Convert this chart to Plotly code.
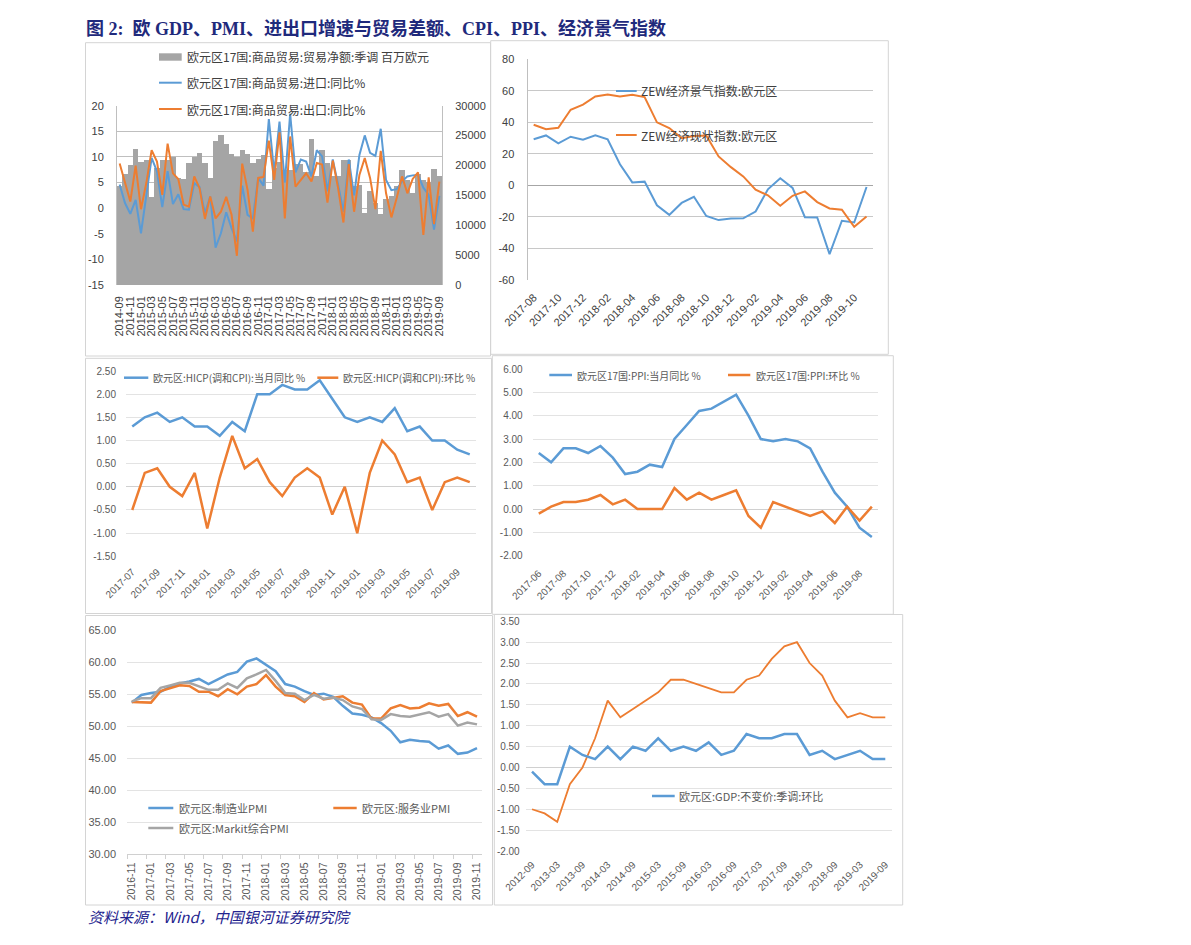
import plotly.graph_objects as go
import pandas as pd

W, H = 1191, 945
OFF = 8  # the page body margin shifts the figure by this many pixels


def fx(x):
    return (x - OFF) / W


def fy(y):
    return 1 - (y - OFF) / H


# ---------------- data ----------------
trade_months = pd.date_range("2014-09-01", "2019-09-01", freq="MS").strftime("%Y-%m").tolist()
trade_balance = [16630, 18600, 20060, 22800, 20570, 20910, 14830, 19630, 20910, 20910,
                 21510, 17910, 17830, 20490, 21510, 22200, 20400, 17910, 24170, 25200,
                 23570, 21940, 21430, 22710, 21940, 20490, 21170, 21770, 16030, 19710,
                 20660, 19370, 19290, 20310, 20310, 19030, 24510, 18260, 22710, 20400,
                 18260, 18260, 21000, 21000, 16630, 16800, 12170, 15860, 13800, 11910,
                 14400, 15000, 16630, 19370, 17570, 15510, 18600, 17570, 17310, 19540,
                 18260]
import_yoy = [4.6, 1.0, -1.1, 1.6, -4.9, 2.3, 9.8, 7.2, 0.2, 7.2,
              0.8, 2.7, -0.2, -0.3, 4.9, 4.1, -1.0, 2.3, -7.7, -4.9,
              -0.8, -3.9, -6.5, 4.4, -1.3, -2.0, 5.9, 4.4, 17.4, 7.0,
              16.9, 5.0, 18.4, 7.0, 9.5, 9.1, 6.2, 11.3, 10.1, 3.3,
              9.5, 4.6, -0.7, 9.5, 2.5, 10.4, 14.2, 10.8, 10.2, 15.5,
              5.5, 3.5, 3.7, 5.2, 6.2, 6.4, 6.5, 4.0, 2.6, -4.2,
              2.4]
export_yoy = [8.7, 4.9, 1.3, 8.3, -0.2, 4.9, 11.3, 9.1, 2.6, 12.6,
              6.8, 5.7, 0.7, 0.3, 6.2, 3.9, -2.1, 2.3, -2.0, -0.7,
              2.2, -1.3, -9.3, 8.7, 3.6, -4.6, 5.9, 6.1, 13.2, 5.5,
              14.8, -2.0, 14.0, 4.2, 5.5, 6.8, 5.2, 8.8, 8.5, 1.1,
              9.3, 3.9, -2.8, 8.6, -0.7, 6.5, 9.8, 5.9, -0.2, 11.2,
              2.9, -1.8, 2.0, 6.2, 2.9, 5.7, 7.0, -5.2, 6.0, -3.1,
              5.2]

zew_months = pd.date_range("2017-08-01", "2019-11-01", freq="MS").strftime("%Y-%m").tolist()
zew_expect = [29.3, 31.7, 26.7, 30.9, 29.0, 31.8, 29.3, 13.4, 1.9, 2.4,
              -12.6, -18.7, -11.1, -7.2, -19.4, -22.0, -21.0, -20.9, -16.6, -2.5,
              4.5, -1.6, -20.2, -20.3, -43.6, -22.4, -23.5, -1.0]
zew_current = [38.5, 35.7, 36.6, 48.0, 51.2, 56.4, 57.7, 56.4, 57.5, 56.0,
               40.0, 36.4, 30.0, 31.3, 31.7, 18.4, 11.6, 5.7, -2.7, -6.3,
               -12.9, -6.6, -3.8, -10.6, -14.6, -15.4, -26.2, -19.7]

hicp_months = pd.date_range("2017-07-01", "2019-10-01", freq="MS").strftime("%Y-%m").tolist()
hicp_yoy = [1.3, 1.5, 1.6, 1.4, 1.5, 1.3, 1.3, 1.1, 1.4, 1.2,
            2.0, 2.0, 2.2, 2.1, 2.1, 2.3, 1.9, 1.5, 1.4, 1.5,
            1.4, 1.7, 1.2, 1.3, 1.0, 1.0, 0.8, 0.7]
hicp_mom = [-0.5, 0.3, 0.4, 0.0, -0.2, 0.3, -0.9, 0.2, 1.1, 0.4,
            0.6, 0.1, -0.2, 0.2, 0.4, 0.2, -0.6, 0.0, -1.0, 0.3,
            1.0, 0.7, 0.1, 0.2, -0.5, 0.1, 0.2, 0.1]

ppi_months = pd.date_range("2017-06-01", "2019-09-01", freq="MS").strftime("%Y-%m").tolist()
ppi_yoy = [2.4, 2.0, 2.6, 2.6, 2.4, 2.7, 2.2, 1.5, 1.6, 1.9,
           1.8, 3.0, 3.6, 4.2, 4.3, 4.6, 4.9, 4.0, 3.0, 2.9,
           3.0, 2.9, 2.6, 1.6, 0.7, 0.1, -0.8, -1.2]
ppi_mom = [-0.2, 0.1, 0.3, 0.3, 0.4, 0.6, 0.2, 0.4, 0.0, 0.0,
           0.0, 0.9, 0.4, 0.7, 0.4, 0.6, 0.8, -0.3, -0.8, 0.3,
           0.1, -0.1, -0.3, -0.1, -0.6, 0.1, -0.5, 0.1]

pmi_months = pd.date_range("2016-11-01", "2019-11-01", freq="MS").strftime("%Y-%m").tolist()
pmi_mfg = [53.7, 54.9, 55.2, 55.4, 56.2, 56.7, 57.0, 57.4, 56.6, 57.4,
           58.1, 58.5, 60.1, 60.6, 59.6, 58.6, 56.6, 56.2, 55.5, 54.9,
           55.1, 54.6, 53.2, 52.0, 51.8, 51.4, 50.5, 49.3, 47.5, 47.9,
           47.7, 47.6, 46.5, 47.0, 45.7, 45.9, 46.6]
pmi_srv = [53.8, 53.7, 53.7, 55.5, 56.0, 56.4, 56.3, 55.4, 55.4, 54.7,
           55.8, 55.0, 56.2, 56.6, 58.0, 56.2, 54.9, 54.7, 53.8, 55.2,
           54.2, 54.4, 54.7, 53.7, 53.4, 51.2, 51.2, 52.8, 53.3, 52.8,
           52.9, 53.6, 53.2, 53.5, 51.6, 52.2, 51.5]
pmi_comp = [53.9, 54.4, 54.4, 56.0, 56.4, 56.8, 56.8, 56.3, 55.7, 55.7,
            56.7, 56.0, 57.5, 58.1, 58.8, 57.1, 55.2, 55.1, 54.1, 54.9,
            54.3, 54.5, 54.1, 53.1, 52.7, 51.1, 51.0, 51.9, 51.6, 51.5,
            51.8, 52.2, 51.5, 51.9, 50.1, 50.6, 50.3]

gdp_quarters = pd.date_range("2012-09-01", "2019-09-01", freq="3MS").strftime("%Y-%m").tolist()
gdp_qoq = [-0.1, -0.4, -0.4, 0.5, 0.3, 0.2, 0.5, 0.2, 0.5, 0.4,
           0.7, 0.4, 0.5, 0.4, 0.6, 0.3, 0.4, 0.8, 0.7, 0.7,
           0.8, 0.8, 0.3, 0.4, 0.2, 0.3, 0.4, 0.2, 0.2]
gdp_yoy = [-1.0, -1.1, -1.3, -0.4, 0.0, 0.7, 1.6, 1.2, 1.4, 1.6,
           1.8, 2.1, 2.1, 2.0, 1.9, 1.8, 1.8, 2.1, 2.2, 2.6,
           2.9, 3.0, 2.5, 2.2, 1.6, 1.2, 1.3, 1.2, 1.2]

BLUE = "#5B9BD5"
ORANGE = "#ED7D31"
GRAY = "#A5A5A5"
FONT = "Liberation Sans, Noto Sans CJK SC, sans-serif"
CJK = "Noto Sans CJK SC, Liberation Sans, sans-serif"

fig = go.Figure()

# ---------- top-left: trade ----------
fig.add_trace(go.Bar(x=trade_months, y=trade_balance, marker=dict(color=GRAY, line=dict(width=0)),
                     xaxis="x", yaxis="y", showlegend=False))
fig.add_trace(go.Scatter(x=trade_months, y=import_yoy, mode="lines", line=dict(color=BLUE, width=2),
                         xaxis="x", yaxis="y2", showlegend=False))
fig.add_trace(go.Scatter(x=trade_months, y=export_yoy, mode="lines", line=dict(color=ORANGE, width=2),
                         xaxis="x", yaxis="y2", showlegend=False))

# ---------- top-right: ZEW ----------
fig.add_trace(go.Scatter(x=zew_months, y=zew_expect, mode="lines", line=dict(color=BLUE, width=2),
                         xaxis="x2", yaxis="y3", showlegend=False))
fig.add_trace(go.Scatter(x=zew_months, y=zew_current, mode="lines", line=dict(color=ORANGE, width=2),
                         xaxis="x2", yaxis="y3", showlegend=False))

# ---------- middle-left: HICP ----------
fig.add_trace(go.Scatter(x=hicp_months, y=hicp_yoy, mode="lines", line=dict(color=BLUE, width=2.5),
                         xaxis="x3", yaxis="y4", showlegend=False))
fig.add_trace(go.Scatter(x=hicp_months, y=hicp_mom, mode="lines", line=dict(color=ORANGE, width=2.5),
                         xaxis="x3", yaxis="y4", showlegend=False))

# ---------- middle-right: PPI ----------
fig.add_trace(go.Scatter(x=ppi_months, y=ppi_yoy, mode="lines", line=dict(color=BLUE, width=2.5),
                         xaxis="x4", yaxis="y5", showlegend=False))
fig.add_trace(go.Scatter(x=ppi_months, y=ppi_mom, mode="lines", line=dict(color=ORANGE, width=2.5),
                         xaxis="x4", yaxis="y5", showlegend=False))

# ---------- bottom-left: PMI ----------
fig.add_trace(go.Scatter(x=pmi_months, y=pmi_mfg, mode="lines", line=dict(color=BLUE, width=2.5),
                         xaxis="x5", yaxis="y6", showlegend=False))
fig.add_trace(go.Scatter(x=pmi_months, y=pmi_srv, mode="lines", line=dict(color=ORANGE, width=2.5),
                         xaxis="x5", yaxis="y6", showlegend=False))
fig.add_trace(go.Scatter(x=pmi_months, y=pmi_comp, mode="lines", line=dict(color=GRAY, width=2.5),
                         xaxis="x5", yaxis="y6", showlegend=False))

# ---------- bottom-right: GDP ----------
fig.add_trace(go.Scatter(x=gdp_quarters, y=gdp_yoy, mode="lines", line=dict(color=ORANGE, width=1.8),
                         xaxis="x6", yaxis="y7", showlegend=False))
fig.add_trace(go.Scatter(x=gdp_quarters, y=gdp_qoq, mode="lines", line=dict(color=BLUE, width=2.5),
                         xaxis="x6", yaxis="y7", showlegend=False))


def cat_axis(n, x0, x1, anchor, angle, size, color, standoff, **kw):
    d = dict(type="category", domain=[fx(x0), fx(x1)], anchor=anchor, range=[-0.5, n - 0.5],
             tickmode="linear", tick0=0, dtick=2, tickangle=angle, showgrid=False, zeroline=False,
             tickfont=dict(family=FONT, size=size, color=color), ticklabelstandoff=standoff,
             fixedrange=True, automargin=False)
    d.update(kw)
    return d


def val_axis(vals, texts, y0, y1, anchor, size, color, gridcolor, standoff, **kw):
    d = dict(domain=[fy(y1), fy(y0)], anchor=anchor, range=[vals[0], vals[-1]], tickmode="array",
             tickvals=vals, ticktext=texts, showgrid=True, gridcolor=gridcolor, gridwidth=1,
             zeroline=False, tickfont=dict(family=FONT, size=size, color=color),
             ticklabelstandoff=standoff, fixedrange=True, automargin=False)
    d.update(kw)
    return d


tl_left = [-15, -10, -5, 0, 5, 10, 15, 20]
tl_right = [0, 5000, 10000, 15000, 20000, 25000, 30000]
tr_vals = [-60, -40, -20, 0, 20, 40, 60, 80]
ml_vals = [-1.5, -1.0, -0.5, 0.0, 0.5, 1.0, 1.5, 2.0, 2.5]
mr_vals = [-2, -1, 0, 1, 2, 3, 4, 5, 6]
bl_vals = [30, 35, 40, 45, 50, 55, 60, 65]
br_vals = [-2.0, -1.5, -1.0, -0.5, 0.0, 0.5, 1.0, 1.5, 2.0, 2.5, 3.0, 3.5]

DARK = "#404040"
MID = "#595959"
LIGHTGRID = "#E3E3E3"

fig.update_layout(
    xaxis=cat_axis(len(trade_months), 117, 442, "y", -90, 11, DARK, 8),
    yaxis=val_axis(tl_right, [str(v) for v in tl_right], 105.7, 285, "x", 11, DARK, GRAY, 10,
                   side="right", showgrid=False, showline=True, linecolor="#BFBFBF"),
    yaxis2=dict(overlaying="y", side="left", anchor="x", range=[-15, 20], tickmode="array",
                tickvals=tl_left, ticktext=[str(v) for v in tl_left], showgrid=True,
                gridcolor="#BFBFBF", zeroline=False, showline=True, linecolor="#BFBFBF",
                tickfont=dict(family=FONT, size=11, color=DARK), ticklabelstandoff=10,
                fixedrange=True, automargin=False),
    xaxis2=cat_axis(len(zew_months), 527.5, 872.7, "y3", -45, 11, DARK, 8),
    yaxis3=val_axis(tr_vals, [str(v) for v in tr_vals], 59.3, 280, "x2", 11, DARK, "#C8C8C8", 10,
                    showline=True, linecolor="#BFBFBF", zeroline=True, zerolinecolor="#A6A6A6",
                    zerolinewidth=1),
    xaxis3=cat_axis(len(hicp_months), 126, 476, "y4", -45, 10, MID, 7),
    yaxis4=val_axis(ml_vals, [f"{v:.2f}" for v in ml_vals], 371, 556.3, "x3", 10, MID, LIGHTGRID, 9,
                    zeroline=True, zerolinecolor="#D0D0D0", zerolinewidth=1),
    xaxis4=cat_axis(len(ppi_months), 532.6, 878, "y5", -45, 10, MID, 9),
    yaxis5=val_axis(mr_vals, [f"{v:.2f}" for v in mr_vals], 369, 555.7, "x4", 10, MID, LIGHTGRID, 9,
                    zeroline=True, zerolinecolor="#D0D0D0", zerolinewidth=1),
    xaxis5=cat_axis(len(pmi_months), 127, 481.8, "y6", -90, 10.5, MID, 3,
                    ticks="outside", ticklen=4, tickcolor="#D0D0D0", tickson="boundaries",
                    showline=True, linecolor="#D0D0D0"),
    yaxis6=val_axis(bl_vals, [f"{v:.2f}" for v in bl_vals], 630.3, 854.3, "x5", 11, MID, LIGHTGRID, 10),
    xaxis6=cat_axis(len(gdp_quarters), 525.7, 891.6, "y7", -45, 10, MID, 5),
    yaxis7=val_axis(br_vals, [f"{v:.2f}" for v in br_vals], 621.3, 851, "x6", 10, MID, LIGHTGRID, 5,
                    zeroline=True, zerolinecolor="#D0D0D0", zerolinewidth=1),
    bargap=0,
    width=W, height=H, autosize=False,
    margin=dict(l=0, r=0, t=0, b=0, pad=0, autoexpand=False),
    paper_bgcolor="white", plot_bgcolor="white",
    showlegend=False,
)

shapes = []
annotations = []

# panel frames
frames = [(85.5, 42.7, 490.5, 356), (490.7, 40.7, 888.3, 354.3), (85.5, 358.3, 491.5, 613.5),
          (492.3, 355.7, 893.3, 614.3), (85.5, 615.5, 492.5, 905), (494.3, 614.5, 902.7, 905)]
for (a, b, c, d) in frames:
    shapes.append(dict(type="rect", xref="paper", yref="paper", x0=fx(a), y0=fy(d), x1=fx(c), y1=fy(b),
                       line=dict(color="#D4D4D4", width=1), fillcolor="rgba(0,0,0,0)", layer="below"))


def leg_line(x0, x1, y, color, width, text, tx, size, tcolor):
    shapes.append(dict(type="line", xref="paper", yref="paper", x0=fx(x0), x1=fx(x1), y0=fy(y), y1=fy(y),
                       line=dict(color=color, width=width)))
    annotations.append(dict(xref="paper", yref="paper", x=fx(tx), y=fy(y), xanchor="left", yanchor="middle",
                            text=text, showarrow=False, font=dict(family=CJK, size=size, color=tcolor)))


# top-left legend
shapes.append(dict(type="rect", xref="paper", yref="paper", x0=fx(159), x1=fx(181.7), y0=fy(60.7), y1=fy(53.3),
                   fillcolor=GRAY, line=dict(width=0)))
annotations.append(dict(xref="paper", yref="paper", x=fx(185), y=fy(56.7), xanchor="left", yanchor="middle",
                        text="欧元区17国:商品贸易:贸易净额:季调 百万欧元", showarrow=False,
                        font=dict(family=CJK, size=12, color=DARK)))
leg_line(159, 181.7, 82.7, BLUE, 2, "欧元区17国:商品贸易:进口:同比%", 185, 12, DARK)
leg_line(159, 181.7, 109, ORANGE, 2, "欧元区17国:商品贸易:出口:同比%", 185, 12, DARK)

# top-right legend
leg_line(616, 636.7, 91, BLUE, 2, "ZEW经济景气指数:欧元区", 639, 12, DARK)
leg_line(616, 636.7, 135, ORANGE, 2, "ZEW经济现状指数:欧元区", 639, 12, DARK)

# middle-left legend
leg_line(124, 148.3, 377.7, BLUE, 2.5, "欧元区:HICP(调和CPI):当月同比 %", 150.7, 10, MID)
leg_line(317.3, 338.3, 377.7, ORANGE, 2.5, "欧元区:HICP(调和CPI):环比 %", 341, 10, MID)

# middle-right legend
leg_line(549.3, 572, 375, BLUE, 2.5, "欧元区17国:PPI:当月同比 %", 575, 10, MID)
leg_line(728, 750.3, 375, ORANGE, 2.5, "欧元区17国:PPI:环比 %", 754, 10, MID)

# bottom-left legend
leg_line(148.3, 173.3, 808, BLUE, 2.5, "欧元区:制造业PMI", 177, 11, MID)
leg_line(333.3, 356.7, 808, ORANGE, 2.5, "欧元区:服务业PMI", 360, 11, MID)
leg_line(148.3, 173.3, 828, GRAY, 2.5, "欧元区:Markit综合PMI", 177, 11, MID)

# bottom-right legend
leg_line(652, 674.7, 796, BLUE, 2.5, "欧元区:GDP:不变价:季调:环比", 677, 11, MID)

# title and source
annotations.append(dict(xref="paper", yref="paper", x=fx(84), y=fy(28), xanchor="left", yanchor="middle",
                        text="<b>图 2:  欧 GDP、PMI、进出口增速与贸易差额、CPI、PPI、经济景气指数</b>",
                        showarrow=False,
                        font=dict(family="Liberation Serif, Noto Sans CJK SC, serif", size=18, color="#1F2A7C")))
annotations.append(dict(xref="paper", yref="paper", x=fx(86), y=fy(916), xanchor="left", yanchor="middle",
                        text="<i>资料来源：Wind，中国银河证券研究院</i>", showarrow=False,
                        font=dict(family="Noto Sans CJK SC, Liberation Serif, serif", size=15, color="#23238E")))

fig.update_layout(shapes=shapes, annotations=annotations)

fig.write_html("out.html")
